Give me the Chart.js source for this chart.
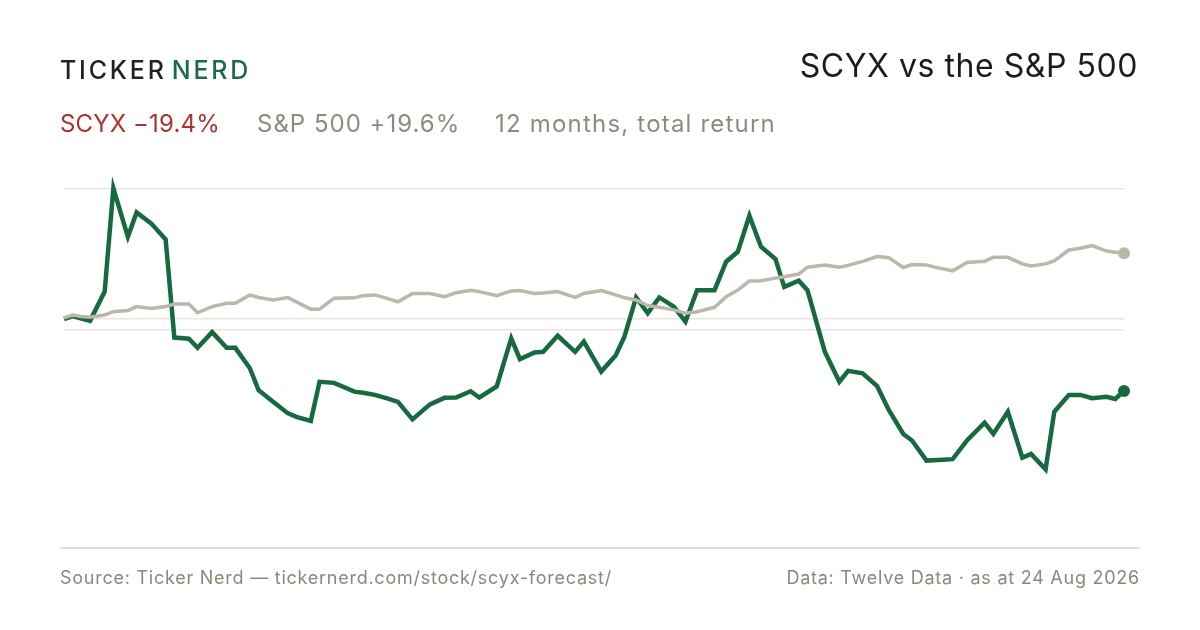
<!DOCTYPE html>
<html>
<head>
<meta charset="utf-8">
<script src="https://cdn.jsdelivr.net/npm/chart.js@4.4.0/dist/chart.umd.min.js"></script>
<style>
  html, body { margin:0; padding:0; background:#ffffff; }
  body { width:1200px; height:630px; position:relative; overflow:hidden; font-family: Inter, "Noto Sans", sans-serif; }
  #c { position:absolute; left:0; top:0; }
  .t { position:absolute; white-space:nowrap; line-height:1; }
  #brand { left:60px; top:58px; font-size:25px; letter-spacing:2.8px; font-weight:500; color:#222222; }
  #brand .g { color:#1d6b45; margin-left:5px; }
  #title { right:62px; top:50px; font-size:32px; letter-spacing:0.55px; color:#1c1c1c; font-weight:400; }
  .sub { top:112px; font-size:24px; color:#8f8a7b; }
  #s1 { left:60px; color:#a93430; letter-spacing:0.15px; }
  #s2 { left:257px; letter-spacing:1px; }
  #s3 { left:495px; letter-spacing:1.2px; }
  #rule { position:absolute; left:60px; top:547px; width:1080px; height:2px; background:#e2dfd5; }
  .foot { top:569px; font-size:18px; letter-spacing:0.75px; color:#8c8777; }
  #f1 { left:60px; }
  #f2 { right:60px; }
</style>
</head>
<body>
<canvas id="c" width="1200" height="630"></canvas>
<div class="t" id="brand">TICKER<span class="g">NERD</span></div>
<div class="t" id="title">SCYX vs the S&amp;P 500</div>
<div class="t sub" id="s1">SCYX −19.4%</div>
<div class="t sub" id="s2">S&amp;P 500 +19.6%</div>
<div class="t sub" id="s3">12 months, total return</div>
<div id="rule"></div>
<div class="t foot" id="f1">Source: Ticker Nerd — tickernerd.com/stock/scyx-forecast/</div>
<div class="t foot" id="f2">Data: Twelve Data · as at 24 Aug 2026</div>
<script>
// Days since start of the 12-month window
const days = [0,3,6,9,14,17,22,25,30,35,
  38,43,46,51,56,59,64,67,72,77,
  80,85,88,93,100,103,107,111,115,120,
  126,131,135,140,143,149,154,157,162,165,
  170,176,179,185,190,193,197,201,205,210,
  214,218,224,228,232,236,240,245,248,253,
  256,262,267,270,275,280,284,289,292,297,
  301,306,311,317,320,325,330,333,338,341,
  346,350,354,359,362,365];

// SCYX cumulative return, %
const scyxReturn = [0.0,0.8,0.1,-0.5,7.5,35.8,22.5,29.2,26.2,21.8,
  -5.1,-5.4,-7.9,-3.6,-7.9,-7.9,-13.5,-19.5,-22.7,-25.8,
  -26.8,-27.9,-17.2,-17.5,-19.9,-20.2,-20.8,-21.7,-22.7,-27.5,
  -23.4,-21.6,-21.5,-19.8,-21.5,-18.5,-5.3,-11.0,-9.2,-9.0,
  -4.6,-9.0,-6.2,-14.4,-9.9,-4.8,5.9,1.6,5.9,3.4,
  -0.7,7.9,7.9,15.7,18.4,28.3,19.8,16.4,8.8,10.5,
  7.9,-9.0,-17.2,-14.2,-14.9,-18.4,-24.9,-31.5,-33.3,-38.8,
  -38.6,-38.4,-33.2,-28.4,-31.5,-25.4,-38.0,-37.0,-41.2,-25.4,
  -20.8,-20.8,-21.7,-21.3,-21.9,-19.7];

// S&P 500 cumulative return, %
const spxReturn = [0.3,1.1,0.7,0.5,1.1,2.0,2.3,3.4,2.9,3.4,
  4.1,4.1,1.7,3.4,4.3,4.3,6.6,5.9,5.2,5.9,
  4.7,2.7,2.7,5.7,5.8,6.4,6.6,5.7,4.7,7.0,
  7.0,6.1,7.2,7.9,7.5,6.4,7.7,7.8,7.0,7.1,
  7.5,5.9,7.0,7.8,6.6,5.8,5.2,3.7,3.2,2.5,
  1.6,2.0,3.2,6.1,7.9,10.4,10.5,11.2,11.6,12.3,
  14.2,14.8,14.2,14.7,15.8,17.1,16.8,14.1,14.9,14.8,
  14.0,13.2,15.5,15.8,16.9,16.9,15.1,14.5,15.1,15.9,
  18.9,19.4,20.1,18.6,18.3,18.0];

// Horizontal reference lines
const gridValues = [-3.0, 0, 35.6];

const toPoints = (vals) => vals.map((v, i) => ({ x: days[i], y: v }));
const lastDot = (r) => (ctx) => ctx.dataIndex === ctx.dataset.data.length - 1 ? r : 0;

new Chart(document.getElementById('c'), {
  type: 'line',
  data: {
    datasets: [
      {
        label: 'S&P 500',
        data: toPoints(spxReturn),
        borderColor: '#bdb6aa',
        backgroundColor: '#bdb6aa',
        borderWidth: 3.5,
        pointRadius: lastDot(6),
        pointHoverRadius: 0,
        pointBorderWidth: 0,
        tension: 0,
        clip: false
      },
      {
        label: 'SCYX',
        data: toPoints(scyxReturn),
        borderColor: '#17693f',
        backgroundColor: '#17693f',
        borderWidth: 4.5,
        pointRadius: lastDot(6),
        pointHoverRadius: 0,
        pointBorderWidth: 0,
        tension: 0,
        clip: false,
        borderJoinStyle: 'miter'
      }
    ]
  },
  options: {
    responsive: false,
    animation: false,
    events: [],
    layout: { padding: { left: 64, right: 76, top: 170, bottom: 100 } },
    plugins: { legend: { display: false }, tooltip: { enabled: false } },
    scales: {
      x: {
        type: 'linear',
        min: 0,
        max: 365,
        display: false
      },
      y: {
        type: 'linear',
        min: -57.81,
        max: 40.82,
        display: true,
        afterBuildTicks: (axis) => { axis.ticks = gridValues.map(v => ({ value: v })); },
        afterFit: (axis) => { axis.width = 0; },
        ticks: { display: false },
        border: { display: false },
        grid: { color: '#e9e6df', lineWidth: 1.5, drawTicks: false }
      }
    }
  }
});
</script>
</body>
</html>
